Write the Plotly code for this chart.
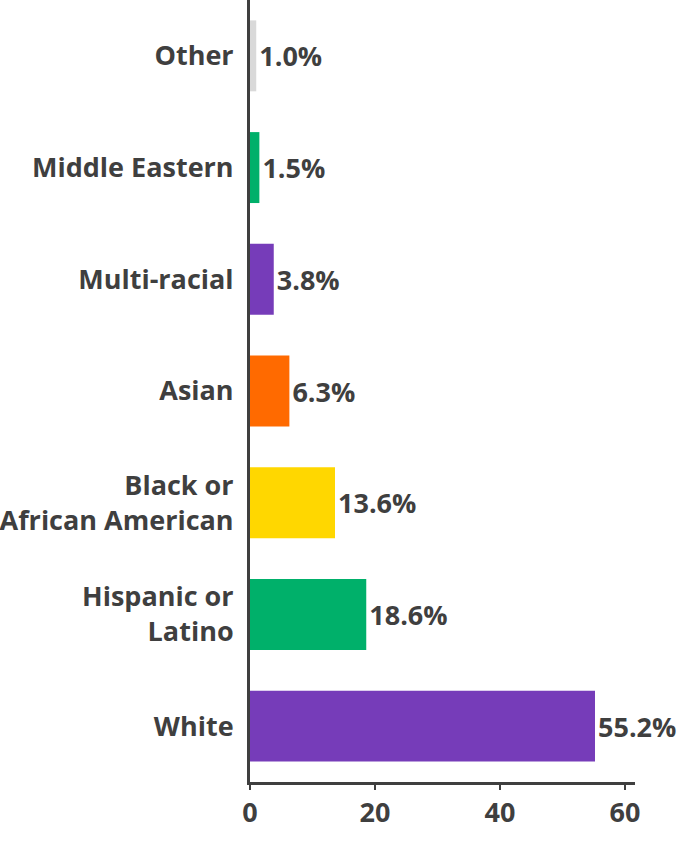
import plotly.graph_objects as go

categories = ["White", "Hispanic or<br>Latino", "Black or<br>African American", "Asian",
              "Multi-racial", "Middle Eastern", "Other"]
values = [55.2, 18.6, 13.6, 6.3, 3.8, 1.5, 1.0]
colors = ["#763CB9", "#00B06A", "#FFD700", "#FF6A00", "#763CB9", "#00B06A", "#D9D9D9"]
tick_vals = [0, 20, 40, 60]

text_color = "#3F3F3F"
font_family = "Open Sans"
fsize = 27

fig = go.Figure(go.Bar(
    x=values,
    y=categories,
    orientation="h",
    marker=dict(color=colors, line=dict(width=0)),
    texttemplate="%{x:.1f}%",
    textposition="outside",
    textfont=dict(family=font_family, size=fsize, color=text_color, weight="bold"),
    cliponaxis=False,
))

fig.update_layout(
    width=685, height=842,
    margin=dict(l=250, r=50, t=0, b=60, autoexpand=False),
    paper_bgcolor="white", plot_bgcolor="white",
    bargap=0.365,
    showlegend=False,
    font=dict(family=font_family, size=fsize, color=text_color, weight="bold"),
)
fig.update_xaxes(
    range=[0, 61.6], tickvals=tick_vals, showgrid=False, zeroline=False,
    showline=True, linecolor=text_color, linewidth=3,
    ticks="outside", ticklen=5, tickwidth=2, tickcolor=text_color,
    tickfont=dict(family=font_family, size=fsize, color=text_color, weight="bold"),
    automargin=False,
)
fig.update_yaxes(
    showgrid=False, zeroline=False, showline=True, linecolor=text_color, linewidth=3,
    ticks="", ticklabelstandoff=8, automargin=False,
    tickfont=dict(family=font_family, size=fsize, color=text_color, weight="bold"),
)

fig.write_html("out.html", config={"displayModeBar": False},
               post_script="document.body.style.margin='0px';")
